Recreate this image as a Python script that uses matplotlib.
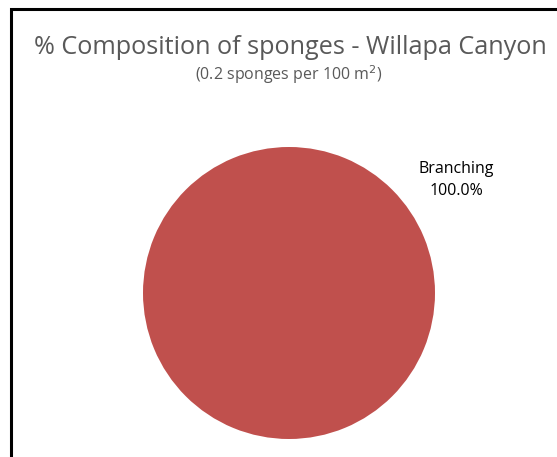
import matplotlib.pyplot as plt
from matplotlib.patches import Rectangle

categorias = ['Branching']
valores = [100.0]
colores = ['#C0504D']

fig = plt.figure(figsize=(5.57, 4.57), dpi=100)
plt.rcParams['font.family'] = ['Open Sans', 'DejaVu Sans']

# marco del grafico (recortado a la derecha y abajo)
fig.patches.append(Rectangle((10.5 / 557, -0.1), 1.2, 1.1 - 9.5 / 457,
                             transform=fig.transFigure, fill=False,
                             edgecolor='black', linewidth=2.2))

ax = fig.add_axes([143 / 557, 18 / 457, 292 / 557, 292 / 457])
ax.pie(valores, colors=colores, startangle=90, radius=1,
       wedgeprops={'linewidth': 0})
ax.set_xlim(-1, 1)
ax.set_ylim(-1, 1)
ax.set_aspect('auto')

total = sum(valores)
for cat, v in zip(categorias, valores):
    ax.text(1.147, 0.775, f'{cat}\n{v / total * 100:.1f}%', ha='center', va='center',
            fontsize=11.5, color='#000000', linespacing=1.45)

fig.text(290 / 557, 1 - 47 / 457, '% Composition of sponges - Willapa Canyon',
         ha='center', va='center', fontsize=18.2, color='#595959')
fig.text(289 / 557, 1 - 75 / 457, '(0.2 sponges per 100 m$^2$)',
         ha='center', va='center', fontsize=11.5, color='#595959')

fig.savefig('out.png', dpi=100)
